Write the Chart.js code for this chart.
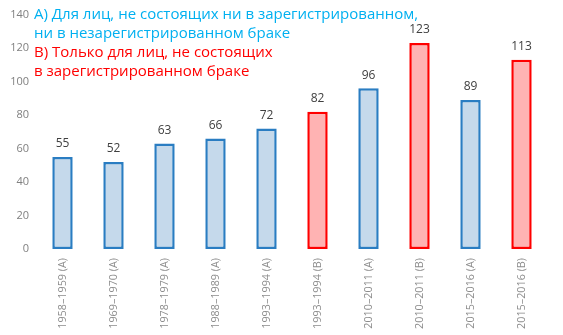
<!DOCTYPE html>
<html>
<head>
<meta charset="utf-8">
<script src="https://cdn.jsdelivr.net/npm/chart.js@4"></script>
<style>
  html, body { margin: 0; padding: 0; background: #fff; }
  #wrap { width: 563px; height: 335px; position: relative; }
</style>
</head>
<body>
<div id="wrap"><canvas id="chart"></canvas></div>
<script>
const periods = ['1958–1959 (A)', '1969–1970 (A)', '1978–1979 (A)', '1988–1989 (A)', '1993–1994 (A)',
                 '1993–1994 (B)', '2010–2011 (A)', '2010–2011 (B)', '2015–2016 (A)', '2015–2016 (B)'];
const values = [55, 52, 63, 66, 72, 82, 96, 123, 89, 113];
const groups = ['A', 'A', 'A', 'A', 'A', 'B', 'A', 'B', 'A', 'B'];
const legendA = ['А) Для лиц, не состоящих ни в зарегистрированном,', 'ни в незарегистрированном браке'];
const legendB = ['В) Только для лиц, не состоящих', 'в зарегистрированном браке'];

const fillFor = g => g === 'A' ? '#c5d9eb' : '#ffb3b3';
const lineFor = g => g === 'A' ? '#2a7dc2' : '#ff0000';

const valueLabels = {
    id: 'valueLabels',
    afterDatasetsDraw(chart) {
        const ctx = chart.ctx;
        ctx.save();
        ctx.font = '12px "Open Sans", sans-serif';
        ctx.fillStyle = '#404040';
        ctx.textAlign = 'center';
        ctx.textBaseline = 'bottom';
        chart.getDatasetMeta(0).data.forEach((bar, i) => {
            ctx.fillText(values[i], bar.x, bar.y - 7);
        });
        ctx.restore();
    }
};

const notes = {
    id: 'notes',
    afterDraw(chart) {
        const ctx = chart.ctx;
        ctx.save();
        ctx.font = '15px "Open Sans", sans-serif';
        ctx.textAlign = 'left';
        ctx.textBaseline = 'middle';
        ctx.fillStyle = '#00b0f0';
        legendA.forEach((t, i) => ctx.fillText(t, 34, 15 + i * 19));
        ctx.fillStyle = '#ff0000';
        legendB.forEach((t, i) => ctx.fillText(t, 34, 53 + i * 19));
        ctx.restore();
    }
};

new Chart(document.getElementById('chart'), {
    type: 'bar',
    data: {
        labels: periods,
        datasets: [{
            data: values,
            backgroundColor: groups.map(fillFor),
            borderColor: groups.map(lineFor),
            borderWidth: 2.5,
            borderSkipped: false,
            categoryPercentage: 1,
            barPercentage: 0.4
        }]
    },
    options: {
        responsive: true,
        maintainAspectRatio: false,
        animation: false,
        layout: { padding: { top: 6, right: 16, left: 0, bottom: 0 } },
        plugins: { legend: { display: false }, tooltip: { enabled: false } },
        scales: {
            x: {
                grid: { display: false, drawTicks: false },
                border: { display: false },
                ticks: {
                    minRotation: 90, maxRotation: 90, padding: 9,
                    color: '#8c8c8c',
                    font: { family: '"Open Sans", sans-serif', size: 10.8 }
                },
                afterFit: s => { s.height = 86; }
            },
            y: {
                min: 0, max: 140,
                grid: { display: false, drawTicks: false },
                border: { display: false },
                ticks: {
                    stepSize: 20, padding: 8,
                    color: '#808080',
                    font: { family: '"Open Sans", sans-serif', size: 11 }
                },
                afterFit: s => { s.width = 37; }
            }
        }
    },
    plugins: [valueLabels, notes]
});
</script>
</body>
</html>
